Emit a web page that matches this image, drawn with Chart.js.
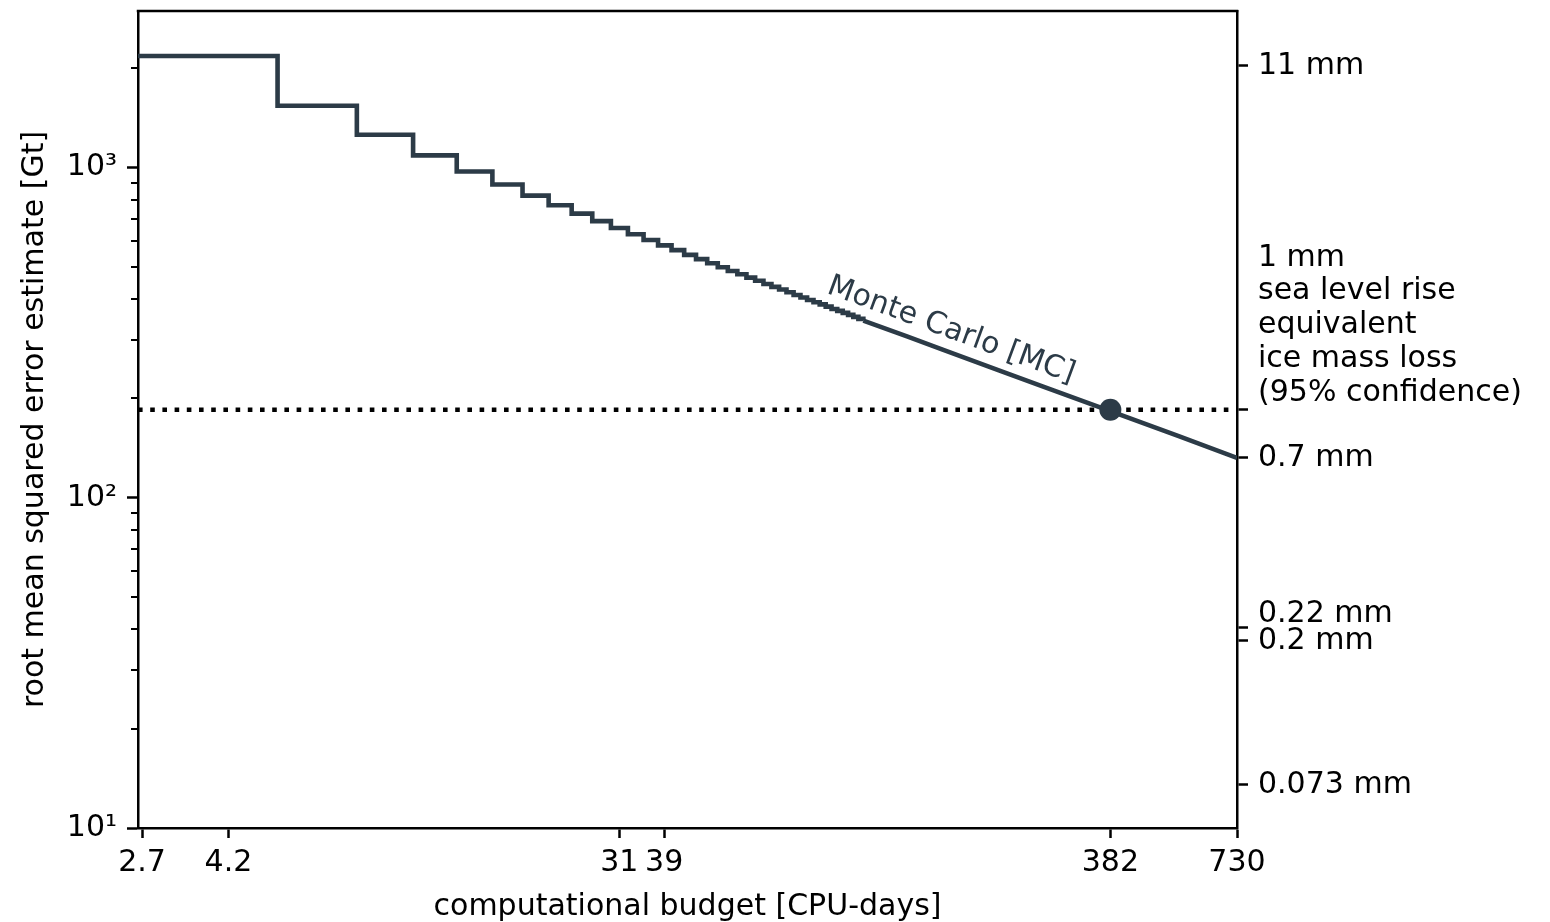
<!DOCTYPE html>
<html>
<head>
<meta charset="utf-8">
<script src="https://cdn.jsdelivr.net/npm/chart.js@4.4.0/dist/chart.umd.min.js"></script>
<style>
html,body{margin:0;padding:0;background:#ffffff;}
canvas{display:block;}
</style>
</head>
<body>
<canvas id="c" width="1550" height="922"></canvas>
<script>
// ---- data ----
// Monte Carlo staircase: budget [CPU-days] where each level starts, and the RMSE level [Gt]
const stepBudget = [2.645, 5.4, 8.1, 10.8, 13.5, 16.2, 18.9, 21.6, 24.3, 27, 29.7, 32.4, 35.1, 37.8, 40.5, 43.2, 45.9, 48.6, 51.3, 54, 56.7, 59.4, 62.1, 64.8, 67.5, 70.2, 72.9, 75.6, 78.3, 81, 83.7, 86.4, 89.1, 91.8, 94.5, 97.2, 99.9, 102.6, 105.3, 108];
const stepRmse = [2175, 1538, 1256, 1088, 973, 888, 822, 769, 725, 688, 656, 628, 603, 581, 562, 544, 528, 513, 499, 486, 475, 464, 454, 444, 435, 427, 419, 411, 404, 397, 391, 385, 379, 373, 368, 363, 358, 353, 348, 344];
// Monte Carlo tail (steps too fine to see)
const tailBudget = [108, 135, 162, 216, 270, 382, 540, 730];
const tailRmse = [344, 308, 281, 243, 217.5, 183, 154, 132];
// 1 mm sea level rise equivalent (95% confidence) threshold and crossing
const thresholdRmse = 184.7;
const crossingBudget = [382];
const crossingRmse = [184.7];
// label anchor on the MC curve
const labelBudget = 163;
const labelRmse = 280;

// axes
const xMin = 2.645, xMax = 730;
const yMin = 10, yMax = 2978;
const xTicks = [2.7, 4.2, 31, 39, 382, 730];
const xTickLabels = ['2.7', '4.2', '31', '39', '382', '730'];
const yTicks = [10, 100, 1000];
const yTickLabels = ['10\u00B9', '10\u00B2', '10\u00B3'];
const yMinorTicks = [20, 30, 40, 50, 60, 70, 80, 90, 200, 300, 400, 500, 600, 700, 800, 900, 2000];
const slrTicks = [2031, 184.7, 132, 40.6, 36.9, 13.5];
const slrTickLabels = [
  ['11 mm'],
  ['1 mm', 'sea level rise', 'equivalent', 'ice mass loss', '(95% confidence)'],
  ['0.7 mm'],
  ['0.22 mm'],
  ['0.2 mm'],
  ['0.073 mm']
];

// ---- styles ----
const FAMILY = '"DejaVu Sans", "Liberation Sans", sans-serif';
const FS = 30;
const LINE = '#2c3b47';
const BLACK = '#000000';
// trailing blank lines + line heights used to place the multi-line labels like the reference
const slrPadLines = [0, 5, 0, 1, 0, 0];
const slrLineHeights = ['36px', '33.75px', '36px', '26px', '36px', '36px'];

Chart.defaults.font.family = FAMILY;
Chart.defaults.font.size = FS;
Chart.defaults.color = BLACK;

const pts = (xs, ys) => xs.map((v, i) => ({x: v, y: ys[i]}));

const decor = {
  id: 'decor',
  afterDatasetsDraw(chart) {
    const {ctx, scales: {x, y}} = chart;
    const x1 = x.getPixelForValue(tailBudget[0]), y1 = y.getPixelForValue(tailRmse[0]);
    const x2 = x.getPixelForValue(tailBudget[tailBudget.length - 1]), y2 = y.getPixelForValue(tailRmse[tailRmse.length - 1]);
    const ang = Math.atan2(y2 - y1, x2 - x1);
    const ax = x.getPixelForValue(labelBudget), ay = y.getPixelForValue(labelRmse);
    const off = 21;
    ctx.save();
    ctx.translate(ax + Math.sin(ang) * off, ay - Math.cos(ang) * off);
    ctx.rotate(ang);
    ctx.font = FS + 'px ' + FAMILY;
    ctx.fillStyle = LINE;
    ctx.textAlign = 'center';
    ctx.textBaseline = 'middle';
    ctx.fillText('Monte Carlo [MC]', 0, 0);
    ctx.restore();
  },
  afterDraw(chart) {
    const {ctx, chartArea: a, scales: {y}} = chart;
    ctx.save();
    ctx.strokeStyle = BLACK;
    // top spine
    ctx.lineWidth = 2.5;
    ctx.beginPath();
    ctx.moveTo(a.left - 1.25, a.top);
    ctx.lineTo(a.right + 1.25, a.top);
    ctx.stroke();
    // minor ticks on the left axis
    ctx.lineWidth = 2;
    ctx.beginPath();
    for (const v of yMinorTicks) {
      const py = Math.round(y.getPixelForValue(v));
      ctx.moveTo(a.left - 7, py);
      ctx.lineTo(a.left, py);
    }
    ctx.stroke();
    ctx.restore();
  }
};

const gridOpts = {display: true, drawOnChartArea: false, drawTicks: true, tickLength: 11, tickWidth: 2.5, tickColor: BLACK, color: BLACK};
const borderOpts = {display: true, color: BLACK, width: 2.5};
const noPad = s => { s.paddingTop = 0; s.paddingBottom = 0; s.paddingLeft = 0; s.paddingRight = 0; };

new Chart(document.getElementById('c'), {
  type: 'line',
  data: {
    datasets: [
      {
        type: 'scatter', data: pts(crossingBudget, crossingRmse), order: 0,
        pointRadius: 11, pointBackgroundColor: LINE, pointBorderColor: LINE, pointBorderWidth: 0, showLine: false
      },
      {
        data: pts(stepBudget, stepRmse), order: 1, stepped: 'before',
        borderColor: LINE, borderWidth: 4.6, pointRadius: 0, fill: false, tension: 0,
        borderJoinStyle: 'miter', borderCapStyle: 'butt'
      },
      {
        data: pts(tailBudget, tailRmse), order: 2,
        borderColor: LINE, borderWidth: 4.6, pointRadius: 0, fill: false, tension: 0,
        borderJoinStyle: 'round', borderCapStyle: 'butt'
      },
      {
        data: pts([xMin, xMax], [thresholdRmse, thresholdRmse]), order: 3,
        borderColor: BLACK, borderWidth: 4.5, borderDash: [4.6, 7.6], borderCapStyle: 'butt',
        pointRadius: 0, fill: false
      }
    ]
  },
  options: {
    responsive: false,
    animation: false,
    events: [],
    layout: {padding: {top: 10, left: 0, right: 0, bottom: 0}},
    plugins: {legend: {display: false}, tooltip: {enabled: false}, title: {display: false}},
    scales: {
      x: {
        type: 'logarithmic', position: 'bottom', min: xMin, max: xMax, bounds: 'data',
        afterBuildTicks: s => { s.ticks = xTicks.map(v => ({value: v})); },
        ticks: {
          callback: (v, i) => xTickLabels[i], autoSkip: false, maxRotation: 0, minRotation: 0,
          padding: 7, color: BLACK, font: {size: FS, family: FAMILY}
        },
        grid: Object.assign({}, gridOpts, {tickLength: 10}),
        border: borderOpts,
        title: {display: true, text: 'computational budget [CPU-days]', color: BLACK,
                font: {size: FS, family: FAMILY}, padding: {top: 0, bottom: -3}},
        afterFit: s => { s.height = 94; noPad(s); }
      },
      y: {
        type: 'logarithmic', position: 'left', min: yMin, max: yMax, bounds: 'data',
        afterBuildTicks: s => { s.ticks = yTicks.map(v => ({value: v})); },
        ticks: {
          callback: (v, i) => yTickLabels[i], autoSkip: false, padding: 10, color: BLACK,
          font: {size: FS, family: FAMILY}
        },
        grid: gridOpts,
        border: borderOpts,
        title: {display: true, text: 'root mean squared error estimate [Gt]', color: BLACK,
                font: {size: FS, family: FAMILY}, padding: {top: 17, bottom: 0}},
        afterFit: s => { s.width = 138; noPad(s); }
      },
      y2: {
        type: 'logarithmic', position: 'right', min: yMin, max: yMax, bounds: 'data',
        afterBuildTicks: s => { s.ticks = slrTicks.map(v => ({value: v})); },
        ticks: {
          callback: (v, i) => slrTickLabels[i].concat(new Array(slrPadLines[i]).fill('')),
          autoSkip: false, padding: 10, color: BLACK,
          font: ctx => ({size: FS, family: FAMILY, lineHeight: slrLineHeights[ctx.index] || '36px'})
        },
        grid: gridOpts,
        border: borderOpts,
        afterFit: s => { s.width = 313; noPad(s); }
      }
    }
  },
  plugins: [decor]
});
</script>
</body>
</html>
